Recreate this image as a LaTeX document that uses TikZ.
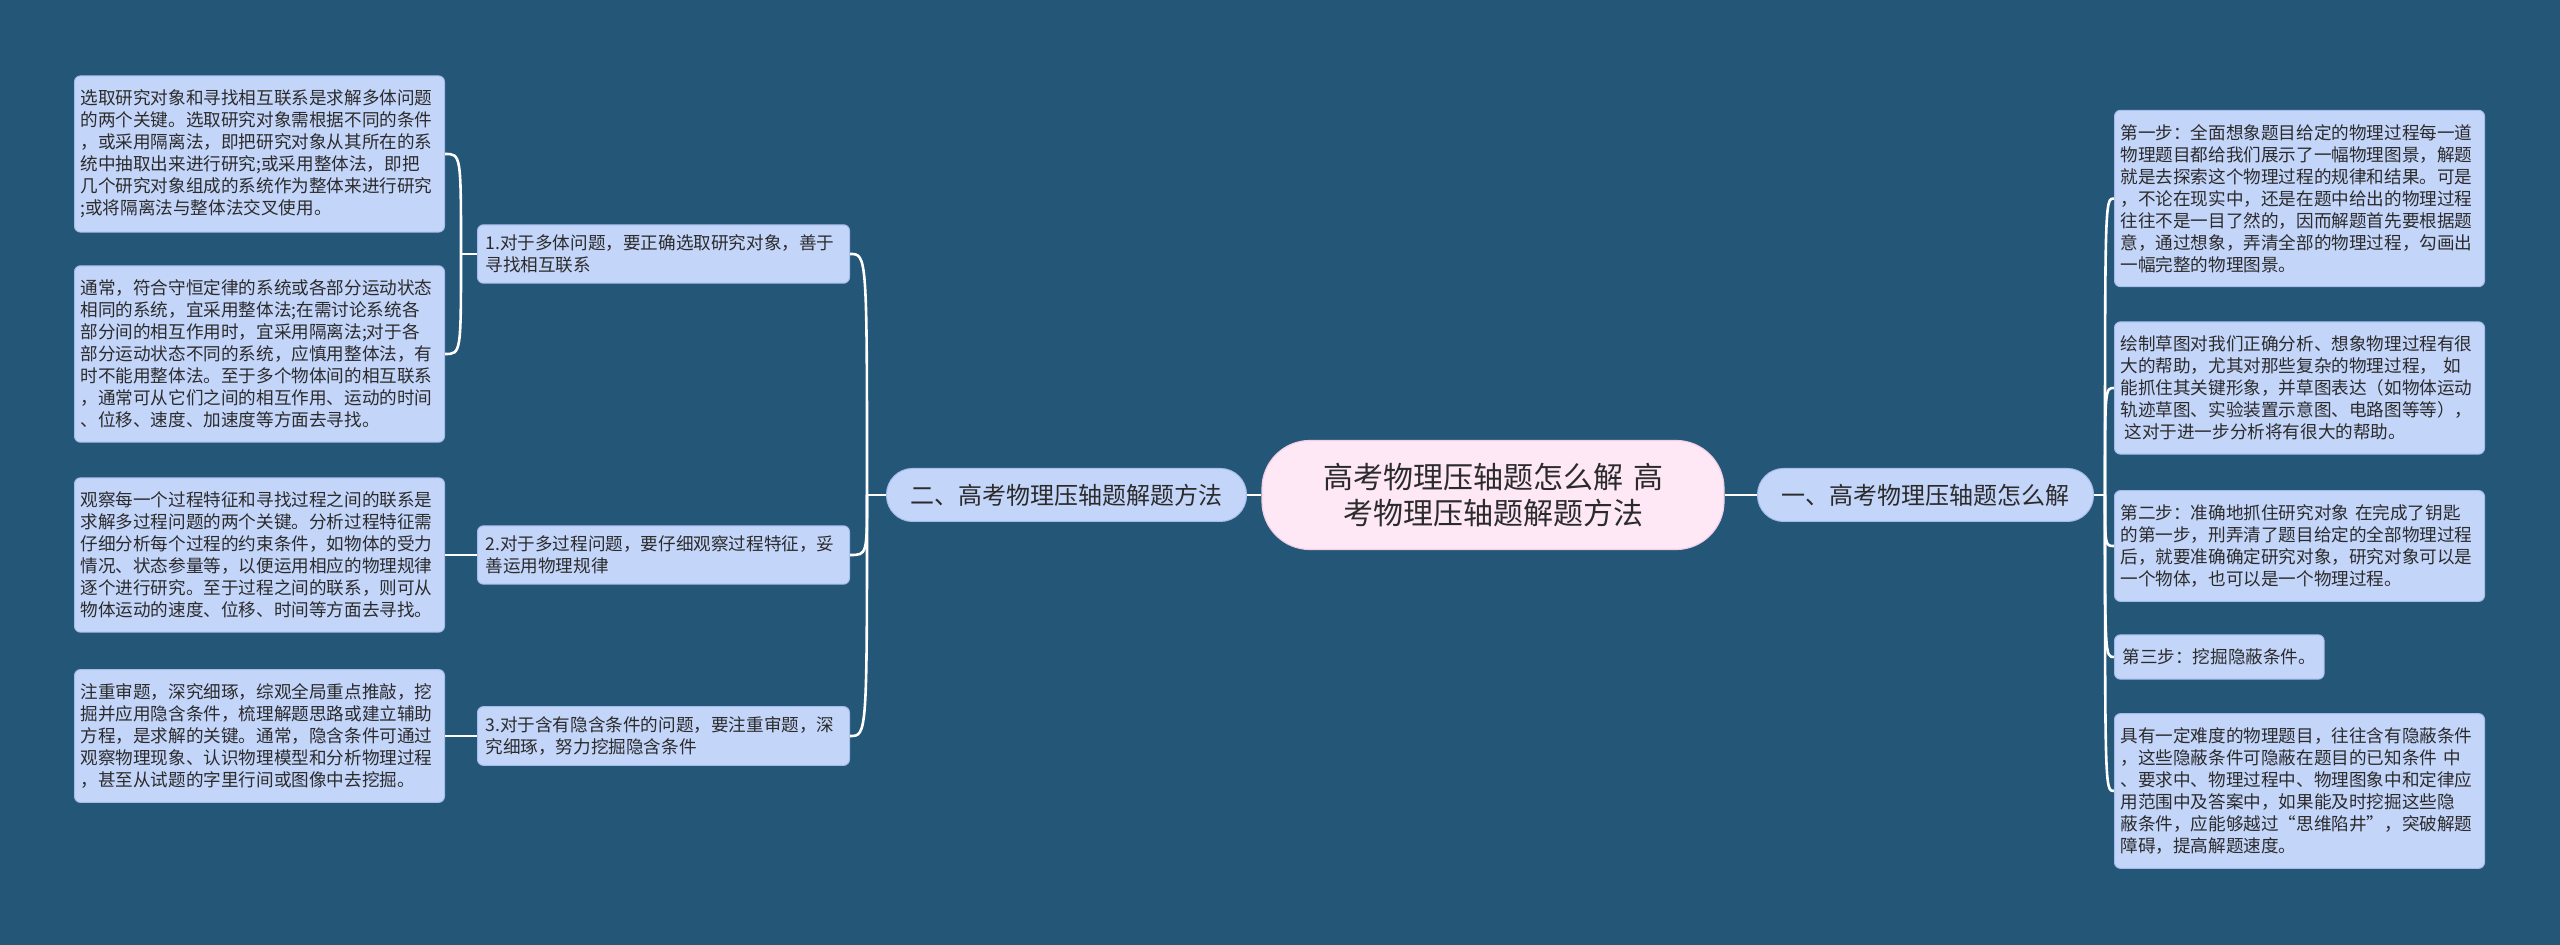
\documentclass[tikz,border=0pt]{standalone}
\usepackage{fontspec}
\setmainfont{Noto Sans CJK SC}
\usetikzlibrary{calc}
\definecolor{bgblue}{HTML}{235677}
\definecolor{leaffill}{HTML}{C4D5FA}
\definecolor{leafline}{HTML}{A6BCEB}
\definecolor{rootfill}{HTML}{FFE8F6}
\definecolor{rootline}{HTML}{F3CFE6}
\definecolor{inkgray}{HTML}{2B2B2B}

\begin{document}
\begin{tikzpicture}[
      x=0.5pt, y=-0.5pt,
      root/.style  ={rectangle, rounded corners=24pt, draw=rootline, line width=0.6pt, fill=rootfill,
                     text=inkgray, align=center, text width=200pt, minimum width=231pt, minimum height=54.5pt,
                     font=\fontsize{15}{18}\selectfont},
      branch/.style={rectangle, rounded corners=13pt, draw=leafline, line width=0.5pt, fill=leaffill,
                     text=inkgray, inner xsep=12pt, minimum height=26.5pt, font=\fontsize{12}{14}\selectfont},
      sub/.style   ={rectangle, rounded corners=3pt, draw=leafline, line width=0.5pt, fill=leaffill,
                     text=inkgray, align=left, text width=178pt, inner xsep=4pt, inner ysep=5pt,
                     font=\fontsize{8.8}{11}\selectfont},
      leaf/.style  ={rectangle, rounded corners=3pt, draw=leafline, line width=0.5pt, fill=leaffill,
                     text=inkgray, align=left, text width=179pt, inner xsep=3pt, inner ysep=7pt,
                     font=\fontsize{8.8}{11}\selectfont},
      short/.style ={rectangle, rounded corners=3pt, draw=leafline, line width=0.5pt, fill=leaffill,
                     text=inkgray, inner xsep=4pt, inner ysep=7pt, font=\fontsize{8.8}{11}\selectfont},
      link/.style  ={draw=white, line width=1.3pt}
    ]
    % --- 背景 ---
    \fill[bgblue] (0,0) rectangle (2560,945);
    \useasboundingbox (0,0) rectangle (2560,945);
    % --- 中心与分支 ---
    \node[root] (root) at (1493,495) {高考物理压轴题怎么解 高\\考物理压轴题解题方法};
    \node[branch, anchor=east] (lb) at (1247,495) {二、高考物理压轴题解题方法};
    \node[branch, anchor=west] (rb) at (1757,495) {一、高考物理压轴题怎么解};
    % --- 左侧：三类问题 ---
    \node[sub] (c1) at (663.5,254) {1.对于多体问题，要正确选取研究对象，善于\\寻找相互联系};
    \node[sub] (c2) at (663.5,555) {2.对于多过程问题，要仔细观察过程特征，妥\\善运用物理规律};
    \node[sub] (c3) at (663.5,736) {3.对于含有隐含条件的问题，要注重审题，深\\究细琢，努力挖掘隐含条件};
    \node[leaf] (l1) at (259.5,154) {选取研究对象和寻找相互联系是求解多体问题\\的两个关键。选取研究对象需根据不同的条件\\，或采用隔离法，即把研究对象从其所在的系\\统中抽取出来进行研究;或采用整体法，即把\\几个研究对象组成的系统作为整体来进行研究\\;或将隔离法与整体法交叉使用。};
    \node[leaf] (l2) at (259.5,354) {通常，符合守恒定律的系统或各部分运动状态\\相同的系统，宜采用整体法;在需讨论系统各\\部分间的相互作用时，宜采用隔离法;对于各\\部分运动状态不同的系统，应慎用整体法，有\\时不能用整体法。至于多个物体间的相互联系\\，通常可从它们之间的相互作用、运动的时间\\、位移、速度、加速度等方面去寻找。};
    \node[leaf] (l3) at (259.5,555) {观察每一个过程特征和寻找过程之间的联系是\\求解多过程问题的两个关键。分析过程特征需\\仔细分析每个过程的约束条件，如物体的受力\\情况、状态参量等，以便运用相应的物理规律\\逐个进行研究。至于过程之间的联系，则可从\\物体运动的速度、位移、时间等方面去寻找。};
    \node[leaf] (l4) at (259.5,736) {注重审题，深究细琢，综观全局重点推敲，挖\\掘并应用隐含条件，梳理解题思路或建立辅助\\方程，是求解的关键。通常，隐含条件可通过\\观察物理现象、认识物理模型和分析物理过程\\，甚至从试题的字里行间或图像中去挖掘。};
    % --- 右侧：解题步骤 ---
    \node[leaf, anchor=west]  (r1) at (2114,198.5) {第一步：全面想象题目给定的物理过程每一道\\物理题目都给我们展示了一幅物理图景，解题\\就是去探索这个物理过程的规律和结果。可是\\，不论在现实中，还是在题中给出的物理过程\\往往不是一目了然的，因而解题首先要根据题\\意，通过想象，弄清全部的物理过程，勾画出\\一幅完整的物理图景。};
    \node[leaf, anchor=west]  (r2) at (2114,388) {绘制草图对我们正确分析、想象物理过程有很\\大的帮助，尤其对那些复杂的物理过程， 如\\能抓住其关键形象，并草图表达（如物体运动\\轨迹草图、实验装置示意图、电路图等等），\\\hspace*{2pt}这对于进一步分析将有很大的帮助。};
    \node[leaf, anchor=west]  (r3) at (2114,546) {第二步：准确地抓住研究对象 在完成了钥匙\\的第一步，刑弄清了题目给定的全部物理过程\\后，就要准确确定研究对象，研究对象可以是\\一个物体，也可以是一个物理过程。};
    \node[short, anchor=west] (r4) at (2114,657) {第三步：挖掘隐蔽条件。};
    \node[leaf, anchor=west]  (r5) at (2114,791) {具有一定难度的物理题目，往往含有隐蔽条件\\，这些隐蔽条件可隐蔽在题目的已知条件 中\\、要求中、物理过程中、物理图象中和定律应\\用范围中及答案中，如果能及时挖掘这些隐\\蔽条件，应能够越过“思维陷井”，突破解题\\障碍，提高解题速度。};
    % --- 连线 ---
    \draw[link] (root.west) -- (lb.east);
    \draw[link] (root.east) -- (rb.west);
    \draw[link] (lb.west) -- ++(-19,0) coordinate (lsp);
    \foreach \c in {c1,c2,c3}
      \draw[link] (lsp) .. controls (lsp |- \c.east) .. (\c.east);
    \draw[link] (c1.west) -- ++(-16,0) coordinate (s1);
    \foreach \l in {l1,l2}
      \draw[link] (s1) .. controls (s1 |- \l.east) .. (\l.east);
    \draw[link] (c2.west) -- (l3.east);
    \draw[link] (c3.west) -- (l4.east);
    \draw[link] (rb.east) -- ++(11,0) coordinate (rsp);
    \foreach \r in {r1,r2,r3,r4,r5}
      \draw[link] (rsp) .. controls (rsp |- \r.west) .. (\r.west);
  \end{tikzpicture}
\end{document}
